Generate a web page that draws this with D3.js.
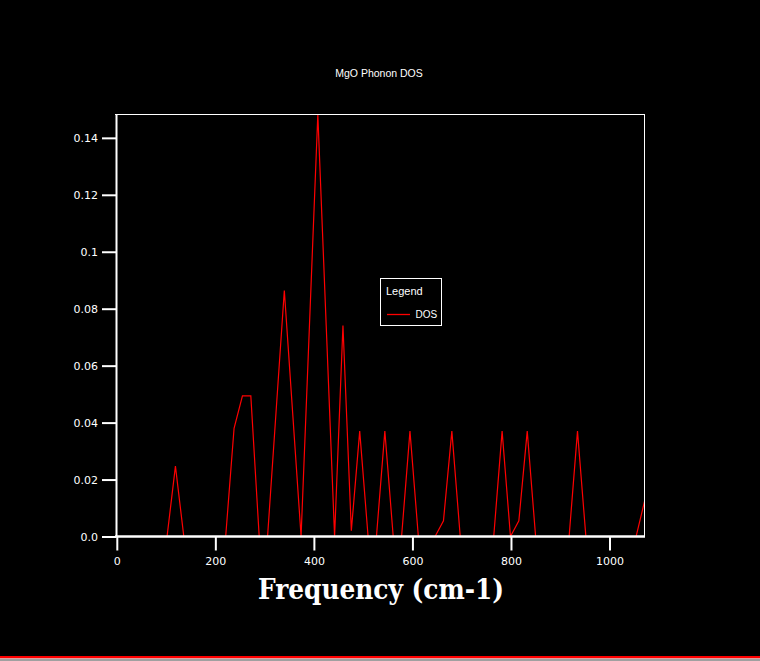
<!DOCTYPE html>
<html><head><meta charset="utf-8">
<script src="https://d3js.org/d3.v7.min.js"></script>
<style>html,body{margin:0;padding:0;background:#000;overflow:hidden}</style>
</head><body>
<script>
const title = "MgO Phonon DOS";
const xLabel = "Frequency (cm-1)";
const legendTitle = "Legend";
const seriesName = "DOS";
const frequencies = [0,17,34,51,68,85,102,119,136,153,170,187,204,221,238,255,272,289,306,323,340,357,374,391,408,425,442,459,476,493,510,527,544,561,578,595,612,629,646,663,680,697,714,731,748,765,782,799,816,833,850,867,884,901,918,935,952,969,986,1003,1020,1037,1054,1071];
const dos = [0,0,0,0,0,0,0,0.0247,0,0,0,0,0,0,0.038,0.0494,0.0494,0,0,0.0432,0.0864,0.0432,0,0.0741,0.1482,0.0741,0,0.0741,0.002,0.037,0,0,0.037,0,0,0.037,0,0,0,0.0055,0.037,0,0,0,0,0,0.037,0,0.0055,0.037,0,0,0,0,0,0.037,0,0,0,0,0,0,0,0.0123];
const xTicks = [0,200,400,600,800,1000];
const yTicks = [0,0.02,0.04,0.06,0.08,0.1,0.12,0.14];
const yTickLabels = ["0.0","0.02","0.04","0.06","0.08","0.1","0.12","0.14"];

const W = 760, H = 661;
const svg = d3.select("body").append("svg").attr("width", W).attr("height", H).style("display","block");
svg.append("rect").attr("width", W).attr("height", H).attr("fill", "#000");

const x = d3.scaleLinear().domain([0, 1071]).range([116.8, 644.5]);
const y = d3.scaleLinear().domain([0, 0.1482]).range([536.5, 114.5]);

const tickFont = "'DejaVu Sans', sans-serif";

// data line (drawn first so axes cover the zero baseline)
const line = d3.line().x((d,i)=>x(frequencies[i])).y(d=>y(d));
svg.append("path").datum(dos).attr("d", line).attr("fill", "none").attr("stroke", "#ff0000").attr("stroke-width", 1.2);

// frame top & right
svg.append("line").attr("x1", 115).attr("x2", 645).attr("y1", 114.5).attr("y2", 114.5).attr("stroke", "#fff").attr("stroke-width", 1);
svg.append("line").attr("x1", 644.5).attr("x2", 644.5).attr("y1", 114).attr("y2", 537).attr("stroke", "#fff").attr("stroke-width", 1);

// y axis
const gy = svg.append("g").attr("transform", "translate(116,0)")
  .call(d3.axisLeft(y).tickValues(yTicks).tickFormat((d,i)=>yTickLabels[i]).tickSize(14).tickSizeOuter(0).tickPadding(4));
gy.select(".domain").attr("stroke", "#fff").attr("stroke-width", 2);
gy.selectAll(".tick line").attr("stroke", "#fff").attr("stroke-width", 2);
gy.selectAll(".tick text").attr("fill", "#fff").style("font-family", tickFont).style("font-size", "11px");

// x axis
const gx = svg.append("g").attr("transform", "translate(0,536.5)")
  .call(d3.axisBottom(x).tickValues(xTicks).tickFormat(d3.format("d")).tickSize(14).tickSizeOuter(0));
gx.select(".domain").attr("stroke", "#fff").attr("stroke-width", 2.5).attr("d", "M115,0H645");
gx.selectAll(".tick line").attr("stroke", "#fff").attr("stroke-width", 2);
gx.selectAll(".tick text").attr("fill", "#fff").attr("y", 25).attr("dy", "0.35em")
  .style("font-family", tickFont).style("font-size", "11px");

// title
svg.append("text").attr("x", 379).attr("y", 73).attr("text-anchor", "middle").attr("dominant-baseline", "central")
  .attr("fill", "#fff").style("font-family", "'Liberation Sans', sans-serif").style("font-size", "10.5px").text(title);

// x label
svg.append("text").attr("x", 381).attr("y", 589).attr("text-anchor", "middle").attr("dominant-baseline", "central")
  .attr("fill", "#fff").style("font-family", "'DejaVu Serif', serif").style("font-size", "27px").style("font-weight", "600")
  .attr("textLength", 246).attr("lengthAdjust", "spacingAndGlyphs").text(xLabel);

// legend
const lg = svg.append("g");
lg.append("rect").attr("x", 380.5).attr("y", 278.5).attr("width", 61).attr("height", 47).attr("fill", "#000").attr("stroke", "#fff").attr("stroke-width", 1);
lg.append("text").attr("x", 386).attr("y", 291).attr("dominant-baseline", "central").attr("fill", "#fff")
  .style("font-family", "'Liberation Sans', sans-serif").style("font-size", "11px").text(legendTitle);
lg.append("line").attr("x1", 387).attr("x2", 410).attr("y1", 314.5).attr("y2", 314.5).attr("stroke", "#ff0000").attr("stroke-width", 1.3);
lg.append("text").attr("x", 415.5).attr("y", 314.5).attr("dominant-baseline", "central").attr("fill", "#fff")
  .style("font-family", "'Liberation Sans', sans-serif").style("font-size", "10px").text(seriesName);

// bottom window stripes
svg.append("rect").attr("x", 0).attr("y", 656).attr("width", W).attr("height", 2).attr("fill", "#ff0000");
svg.append("rect").attr("x", 0).attr("y", 658).attr("width", W).attr("height", 1).attr("fill", "#e0a0a0");
svg.append("rect").attr("x", 0).attr("y", 659).attr("width", W).attr("height", 2).attr("fill", "#a0a0a0");
</script>
</body></html>
